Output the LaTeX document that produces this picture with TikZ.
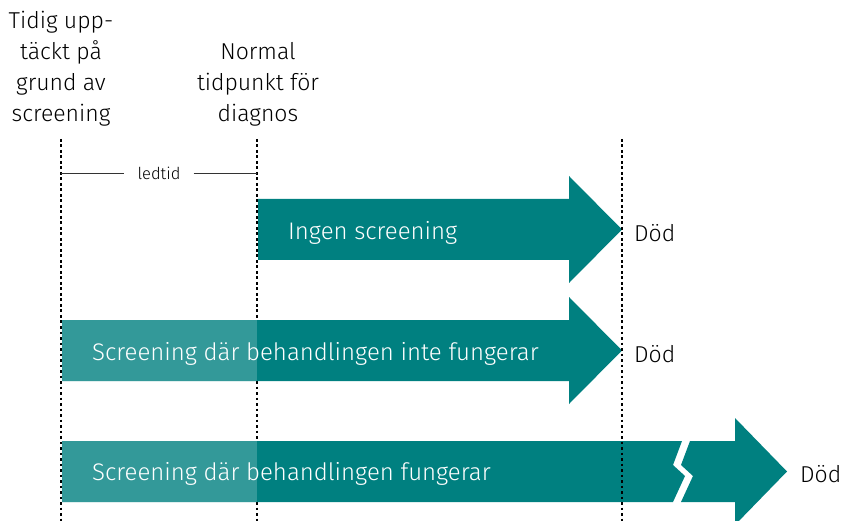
\documentclass[tikz,border=0pt]{standalone}
\usepackage{fontspec}
\setmainfont{Fira Sans}[UprightFont={* Light}]
\definecolor{tealdark}{RGB}{0,128,128}
\definecolor{teallight}{RGB}{51,153,153}
\begin{document}
\begin{tikzpicture}[x=1pt,y=-1pt,
  lbl/.style={font=\fontsize{23}{31}\selectfont, inner sep=0pt},
  inlbl/.style={font=\fontsize{24}{31}\selectfont, inner sep=0pt, text=white, anchor=west},
  dots/.style={line width=2.6pt, dash pattern=on 2.6pt off 2.9pt},
  dark/.style={fill=tealdark, draw=none},
  light/.style={fill=teallight, draw=none}]
\useasboundingbox (0,0) rectangle (843,521);
% middle dotted line behind arrows
\draw[dots] (257,139) -- (257,521);
% arrow 1
\path[dark] (258,199) -- (569,199) -- (569,176) -- (622,229.5) -- (569,283) -- (569,260) -- (258,260) -- cycle;
% arrow 2
\path[dark] (62,320) -- (569,320) -- (569,297) -- (622,350.5) -- (569,404) -- (569,381) -- (62,381) -- cycle;
\path[light] (62,320) rectangle (257,381);
% arrow 3
\path[dark] (62,441) -- (682,441) -- (673,465) -- (685,476) -- (673,502) -- (62,502) -- cycle;
\path[light] (62,441) rectangle (257,502);
\path[dark] (690,441) -- (735,441) -- (735,418) -- (787,471.5) -- (735,525) -- (735,502) -- (681,502) -- (693,476) -- (681,465) -- cycle;
% dotted lines on top
\draw[dots] (61,139) -- (61,521);
\draw[dots] (622,139) -- (622,521);
% top labels
\node[lbl, align=center, anchor=base] (early) at (61,122) {Tidig upp-\\täckt på\\grund av\\screening};
\node[lbl, align=center, anchor=base] (normal) at (258,122) {Normal\\tidpunkt för\\diagnos};
% ledtid
\node[font=\fontsize{16.5}{18}\selectfont, inner sep=0pt] (led) at (159,173) {ledtid};
\coordinate (la) at (61,173);
\coordinate (lb) at (257,173);
\draw[line width=0.9pt, black!80] (la) -- ([xshift=-13pt]led.west);
\draw[line width=0.9pt, black!80] ([xshift=13pt]led.east) -- (lb);
% arrow texts
\node[inlbl] (t1) at (288,233) {Ingen screening};
\node[inlbl] (t2) at (92,354) {Screening där behandlingen inte fungerar};
\node[inlbl] (t3) at (92,474) {Screening där behandlingen fungerar};
\node[lbl, anchor=west] (d1) at (634,233) {Död};
\node[lbl, anchor=west] (d2) at (634,354) {Död};
\node[lbl, anchor=west] (d3) at (800,474) {Död};
\end{tikzpicture}
\end{document}
